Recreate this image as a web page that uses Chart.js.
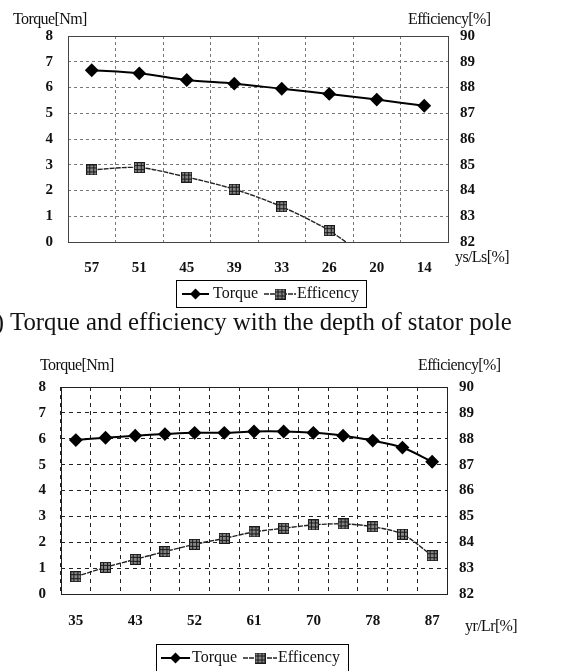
<!DOCTYPE html>
<html>
<head>
<meta charset="utf-8">
<script src="https://cdn.jsdelivr.net/npm/chart.js@4.4.1/dist/chart.umd.min.js"></script>
<style>
body { margin: 0; background: #fff; width: 561px; height: 671px; overflow: hidden; position: relative; font-family: 'Liberation Serif', serif; }
#wrapA { position: absolute; left: 0; top: 0; }
#wrapB { position: absolute; left: 0; top: 330px; }
#legenda { position: absolute; left: 10px; top: 308px; font-size: 24.8px; white-space: nowrap; color: #111; z-index: 2; }
#legenda span { position: absolute; right: 100%; padding-right: 6px; }
</style>
</head>
<body>
<div id="wrapA"><canvas id="graficoA" width="561" height="310"></canvas></div>
<div id="legenda"><span>(a)</span>Torque and efficiency with the depth of stator pole</div>
<div id="wrapB"><canvas id="graficoB" width="561" height="341"></canvas></div>

<script>
// (a) profundidade do polo do estator
var catA = ['57', '51', '45', '39', '33', '26', '20', '14'];
var torqueA = [6.67, 6.55, 6.29, 6.15, 5.95, 5.75, 5.53, 5.29];
var eficA = [84.80, 84.89, 84.52, 84.05, 83.37, 82.44, 81.1, null];

// (b) yr/Lr
var catB = ['35', '39', '43', '48', '52', '56', '61', '65', '70', '74', '78', '83', '87'];
var torqueB = [5.95, 6.04, 6.12, 6.18, 6.23, 6.23, 6.28, 6.28, 6.23, 6.12, 5.93, 5.66, 5.11];
var eficB = [82.67, 83.03, 83.34, 83.64, 83.92, 84.15, 84.40, 84.54, 84.67, 84.71, 84.60, 84.31, 83.48];

var torqueTicks = [0, 8];
var eficTicks = [82, 90];

Chart.defaults.font.family = "'Liberation Serif', serif";
Chart.defaults.color = '#111';

// marcador quadrado "#" da eficiencia
function marcaEficiencia() {
    var c = document.createElement('canvas');
    c.width = 11;
    c.height = 11;
    var g = c.getContext('2d');
    g.fillStyle = '#858585';
    g.fillRect(0, 0, 11, 11);
    g.strokeStyle = '#1a1a1a';
    g.lineWidth = 1;
    g.strokeRect(0.5, 0.5, 10, 10);
    g.beginPath();
    [3.5, 7.5].forEach(function (p) {
        g.moveTo(p, 0); g.lineTo(p, 11);
        g.moveTo(0, p); g.lineTo(11, p);
    });
    g.stroke();
    return c;
}
var marca = marcaEficiencia();

// textos, moldura e legenda desenhados a mao
const extras = {
    id: 'extras',
    afterDraw(chart) {
        var cfg = chart.options.plugins.extras;
        var ctx = chart.ctx;
        var area = chart.chartArea;
        ctx.save();

        ctx.strokeStyle = cfg.moldura;
        ctx.lineWidth = 1;
        ctx.setLineDash([]);
        ctx.strokeRect(Math.round(area.left) + 0.5, Math.round(area.top) + 0.5,
            Math.round(area.right - area.left), Math.round(area.bottom - area.top));

        ctx.fillStyle = '#111';
        ctx.textBaseline = 'middle';
        ctx.font = "16px 'Liberation Serif'";
        ctx.letterSpacing = '-0.6px';
        cfg.textos.forEach(function (t) {
            ctx.textAlign = 'left';
            ctx.fillText(t.texto, t.x, t.y);
        });
        ctx.letterSpacing = '0px';

        // legenda
        var L = cfg.legenda;
        ctx.strokeStyle = '#000';
        ctx.strokeRect(L.x + 0.5, L.y + 0.5, L.w, L.h);
        var cy = L.y + L.cy;
        ctx.font = "16px 'Liberation Serif'";
        chart.data.datasets.forEach(function (d, i) {
            var it = L.itens[i];
            ctx.beginPath();
            ctx.setLineDash(d.borderDash || []);
            ctx.strokeStyle = d.borderColor;
            ctx.lineWidth = d.borderWidth;
            ctx.moveTo(it.x1, cy);
            ctx.lineTo(it.x2, cy);
            ctx.stroke();
            ctx.setLineDash([]);
            ctx.fillStyle = d.backgroundColor;
            ctx.strokeStyle = d.borderColor;
            Chart.helpers.drawPoint(ctx, { pointStyle: d.pointStyle, radius: d.pointRadius, borderWidth: 0, rotation: 0 }, (it.x1 + it.x2) / 2, cy);
            ctx.fillStyle = '#111';
            ctx.textAlign = 'left';
            ctx.fillText(d.label, it.tx, cy);
        });
        ctx.restore();
    }
};

function montarGrafico(id, categorias, torque, efic, lay) {
    return new Chart(document.getElementById(id), {
        type: 'line',
        data: {
            labels: categorias,
            datasets: [
                {
                    label: 'Torque',
                    data: torque,
                    yAxisID: 'y',
                    borderColor: '#000',
                    backgroundColor: '#000',
                    borderWidth: 2,
                    pointStyle: 'rectRot',
                    pointRadius: 5.5,
                    pointHoverRadius: 5.5,
                    tension: 0.3
                },
                {
                    label: 'Efficency',
                    data: efic,
                    yAxisID: 'y1',
                    borderColor: '#222',
                    backgroundColor: '#858585',
                    borderWidth: 1.4,
                    borderDash: [5, 1],
                    pointStyle: marca,
                    pointRadius: 5.5,
                    tension: 0.3
                }
            ]
        },
        options: {
            responsive: false,
            animation: false,
            events: [],
            layout: { padding: { top: lay.topo, left: 0, right: 0, bottom: 0 } },
            plugins: {
                legend: { display: false },
                tooltip: { enabled: false },
                extras: lay.extras
            },
            scales: {
                x: {
                    type: 'category',
                    offset: true,
                    grid: { offset: true, color: lay.corGrade, drawTicks: false },
                    border: { display: false, dash: lay.tracejado },
                    ticks: {
                        autoSkip: false,
                        maxRotation: 0,
                        padding: lay.padX,
                        font: { size: 15, weight: 'bold' },
                        callback: function (v, i) { return i % lay.passo == 0 ? this.getLabelForValue(v) : ''; }
                    },
                    afterFit: function (s) { s.height = lay.alturaX; }
                },
                y: {
                    position: 'left',
                    min: torqueTicks[0],
                    max: torqueTicks[1],
                    grid: { color: lay.corGrade, drawTicks: false },
                    border: { display: false, dash: lay.tracejado },
                    ticks: { stepSize: 1, padding: lay.padY, font: { size: 15, weight: 'bold' } },
                    afterFit: function (s) { s.width = lay.esquerda; }
                },
                y1: {
                    position: 'right',
                    min: eficTicks[0],
                    max: eficTicks[1],
                    grid: { display: false, drawTicks: false },
                    border: { display: false },
                    ticks: { stepSize: 1, padding: 12, font: { size: 15, weight: 'bold' } },
                    afterFit: function (s) { s.width = lay.direita; }
                }
            }
        },
        plugins: [extras]
    });
}

montarGrafico('graficoA', catA, torqueA, eficA, {
    topo: 36, esquerda: 68, direita: 113, alturaX: 68, padX: 17, padY: 15, passo: 1,
    corGrade: '#777', tracejado: [3, 3],
    extras: {
        moldura: '#444',
        textos: [
            { texto: 'Torque[Nm]', x: 13, y: 20 },
            { texto: 'Efficiency[%]', x: 408, y: 20 },
            { texto: 'ys/Ls[%]', x: 455, y: 258 }
        ],
        legenda: {
            x: 176, y: 280, w: 190, h: 27, cy: 14,
            itens: [{ x1: 182, x2: 209, tx: 213 }, { x1: 264, x2: 296, tx: 297 }]
        }
    }
});

montarGrafico('graficoB', catB, torqueB, eficB, {
    topo: 57, esquerda: 61, direita: 114, alturaX: 77, padX: 18, padY: 15, passo: 2,
    corGrade: '#222', tracejado: [4, 4],
    extras: {
        moldura: '#222',
        textos: [
            { texto: 'Torque[Nm]', x: 40, y: 36 },
            { texto: 'Efficiency[%]', x: 418, y: 36 },
            { texto: 'yr/Lr[%]', x: 465, y: 297 }
        ],
        legenda: {
            x: 156, y: 314, w: 192, h: 30, cy: 14,
            itens: [{ x1: 161, x2: 190, tx: 192 }, { x1: 243, x2: 277, tx: 278 }]
        }
    }
});
</script>
</body>
</html>
